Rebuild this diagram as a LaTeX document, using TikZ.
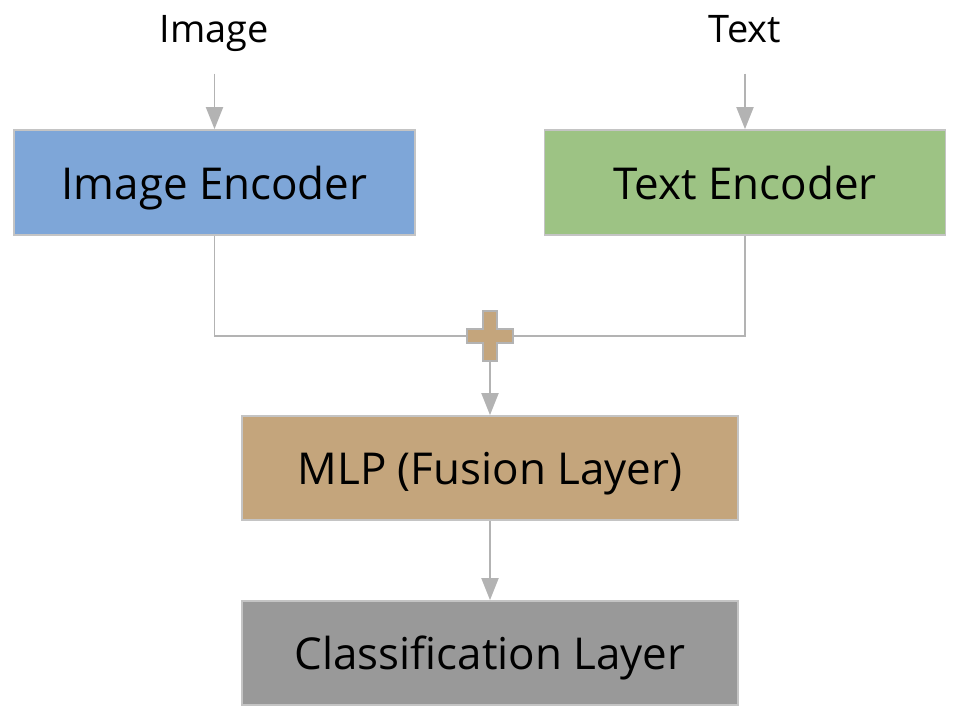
\documentclass[tikz,border=0pt]{standalone}
\usepackage{fontspec}
\setmainfont{Open Sans}
\usetikzlibrary{arrows.meta}

\definecolor{encblue}{HTML}{7EA6D8}
\definecolor{encgreen}{HTML}{9DC384}
\definecolor{fusiontan}{HTML}{C4A57C}
\definecolor{classgray}{HTML}{999999}
\definecolor{linegray}{HTML}{B3B3B3}
\definecolor{edgegray}{HTML}{C4C4C4}

\begin{document}
\begin{tikzpicture}[
    box/.style={draw=edgegray, line width=1pt, minimum width=8.02cm, minimum height=2.1cm, text height=19pt, text depth=0pt, font=\fontsize{25}{30}\selectfont},
    layerbox/.style={box, minimum width=9.92cm, minimum height=2.08cm},
    inlabel/.style={font=\fontsize{21.6}{26}\selectfont, text height=0.75em, text depth=0.25em, inner ysep=0.52cm},
    line/.style={draw=linegray, color=linegray, line width=1.1pt},
    arrow/.style={line, -{Triangle[length=0.44cm, width=0.34cm]}}]
    \useasboundingbox (0,0) rectangle (19.32,-14.4);

    \node[inlabel] (imglabel) at (4.29,-0.77) {Image};
    \node[inlabel] (txtlabel) at (14.9,-0.77) {Text};

    \node[box, fill=encblue] (imgenc) at (4.29,-3.65) {Image Encoder};
    \node[box, fill=encgreen] (txtenc) at (14.9,-3.65) {Text Encoder};

    \node[minimum width=0.92cm, minimum height=1cm, inner sep=0pt] (plus) at (9.8,-6.72) {};

    \node[layerbox, fill=fusiontan] (mlp) at (9.8,-9.36) {MLP (Fusion Layer)};
    \node[layerbox, fill=classgray] (class) at (9.8,-13.06) {Classification Layer};

    \draw[arrow] (imglabel) -- (imgenc);
    \draw[arrow] (txtlabel) -- (txtenc);

    \draw[line] (imgenc.south) |- (plus.west);
    \draw[line] (txtenc.south) |- (plus.east);

    \filldraw[fill=fusiontan, draw=linegray, line width=1pt, shift={(plus.center)}]
        (-0.14,0.5) -- (0.14,0.5) -- (0.14,0.14) -- (0.46,0.14) -- (0.46,-0.14)
        -- (0.14,-0.14) -- (0.14,-0.5) -- (-0.14,-0.5) -- (-0.14,-0.14)
        -- (-0.46,-0.14) -- (-0.46,0.14) -- (-0.14,0.14) -- cycle;

    \draw[arrow] (plus.south) -- (mlp.north);
    \draw[arrow] (mlp) -- (class);
\end{tikzpicture}
\end{document}
